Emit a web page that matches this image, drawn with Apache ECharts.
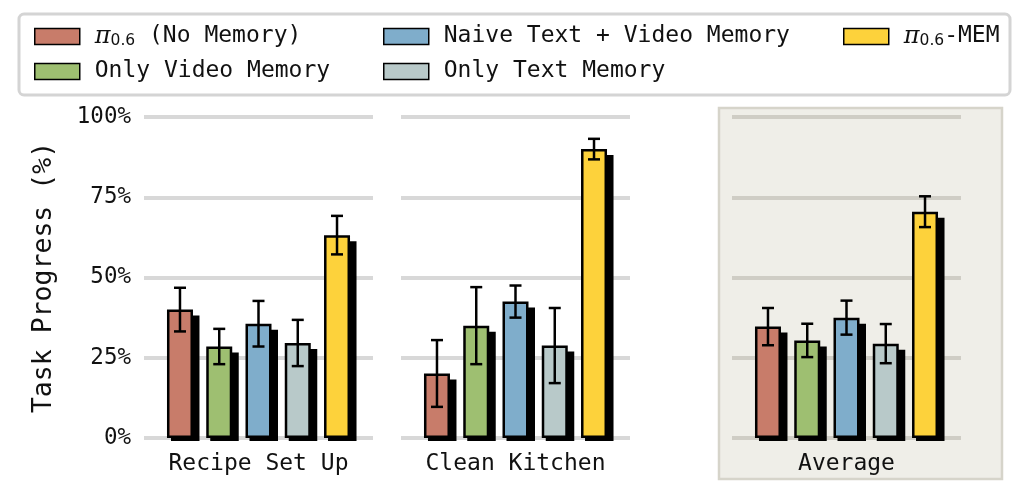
<!DOCTYPE html>
<html>
<head>
<meta charset="utf-8">
<script src="https://cdn.jsdelivr.net/npm/echarts@6/dist/echarts.min.js"></script>
<style>html,body{margin:0;padding:0;background:#fff}#c{width:1030px;height:489px}</style>
</head>
<body>
<div id="c"></div>
<script>
// ---- data ----
const panels = ['Recipe Set Up', 'Clean Kitchen', 'Average'];
const methods = ['π0.6 (No Memory)', 'Only Video Memory', 'Naive Text + Video Memory', 'Only Text Memory', 'π0.6-MEM'];
// values per method, one entry per panel
const noMemory   = [40.0, 20.1, 34.7];
const onlyVideo  = [28.5, 35.0, 30.4];
const naiveTV    = [35.6, 42.5, 37.5];
const onlyText   = [29.6, 28.8, 29.4];
const mem        = [63.2, 90.0, 70.5];
// error half-widths
const noMemoryErr  = [6.8, 10.4, 5.8];
const onlyVideoErr = [5.5, 12.0, 5.2];
const naiveTVErr   = [7.1, 5.0, 5.3];
const onlyTextErr  = [7.2, 11.7, 6.1];
const memErr       = [6.0, 3.2, 4.8];
const yTicks = [0, 25, 50, 75, 100];

const values = [noMemory, onlyVideo, naiveTV, onlyText, mem];
const errs = [noMemoryErr, onlyVideoErr, naiveTVErr, onlyTextErr, memErr];
const colors = ['#c87c6a', '#9ebf71', '#7fadcb', '#b8c9c9', '#fdd23b'];

const FONT = 'DejaVu Sans Mono';
const BAR_W = 26, BAR_GAP = 0.51;
const STEP = BAR_W * (1 + BAR_GAP);
const SH_X = 5, SH_Y = 3;

const gridLeft = [144, 401, 732];
const grids = gridLeft.map(l => ({left: l, width: 229, top: 117, height: 321}));

const xAxes = panels.map((p, i) => ({
  gridIndex: i, type: 'category', data: [p],
  axisLine: {show: false}, axisTick: {show: false},
  axisLabel: {fontFamily: FONT, fontSize: 23, color: '#111', margin: 15}
}));
const yAxes = panels.map((p, i) => ({
  gridIndex: i, type: 'value', min: yTicks[0], max: yTicks[yTicks.length - 1], interval: 25,
  axisLine: {show: false}, axisTick: {show: false},
  axisLabel: {show: i === 0, fontFamily: FONT, fontSize: 22.5, color: '#111', margin: 13, formatter: '{value}%'},
  splitLine: {lineStyle: {color: i === 2 ? '#cfcdc5' : '#d8d8d8', width: 4}},
  name: i === 0 ? 'Task Progress (%)' : '', nameLocation: 'middle', nameGap: 86, nameRotate: 90,
  nameTextStyle: {fontFamily: FONT, fontSize: 26.5, color: '#111'}
}));

const series = [];
panels.forEach((p, i) => {
  // drop shadows behind the bars
  series.push({
    type: 'custom', name: 'shadow' + i, xAxisIndex: i, yAxisIndex: i, z: 1, silent: true,
    data: methods.map((m, j) => [0, values[j][i], j]),
    renderItem: function (params, api) {
      const top = api.coord([0, api.value(1)]);
      const base = api.coord([0, 0]);
      const cx = top[0] + (api.value(2) - 2) * STEP;
      return {type: 'rect', shape: {x: cx - BAR_W / 2 - 1 + SH_X, y: top[1] + SH_Y + 3, width: BAR_W + 2.5, height: base[1] - top[1] - 3},
        style: {fill: '#000'}};
    }
  });
  methods.forEach((m, j) => {
    series.push({
      type: 'bar', name: m, xAxisIndex: i, yAxisIndex: i,
      data: [values[j][i]], barWidth: BAR_W, barGap: (BAR_GAP * 100) + '%',
      itemStyle: {color: colors[j], borderColor: '#000', borderWidth: 2.5},
      emphasis: {disabled: true}, z: 2
    });
  });
  series.push({
    type: 'custom', name: 'err' + i, xAxisIndex: i, yAxisIndex: i, z: 5,
    data: methods.map((m, j) => [0, values[j][i] - errs[j][i], values[j][i] + errs[j][i], j]),
    renderItem: function (params, api) {
      const lo = api.coord([0, api.value(1)]);
      const hi = api.coord([0, api.value(2)]);
      const x = lo[0] + (api.value(3) - 2) * STEP;
      const cap = 6;
      const st = {stroke: '#000', lineWidth: 2.5};
      return {type: 'group', children: [
        {type: 'line', shape: {x1: x, y1: lo[1], x2: x, y2: hi[1]}, style: st},
        {type: 'line', shape: {x1: x - cap, y1: lo[1], x2: x + cap, y2: lo[1]}, style: st},
        {type: 'line', shape: {x1: x - cap, y1: hi[1], x2: x + cap, y2: hi[1]}, style: st}
      ]};
    },
    silent: true
  });
});

const rich = {
  pi: {fontFamily: 'DejaVu Serif', fontStyle: 'italic', fontSize: 24, color: '#111', verticalAlign: 'middle'},
  sub: {fontFamily: 'DejaVu Sans', fontSize: 15.5, color: '#111', padding: [9, 0, 0, 0], verticalAlign: 'middle'},
  t: {fontFamily: FONT, fontSize: 23, color: '#111', verticalAlign: 'middle'}
};
function fmt(name) {
  if (name.indexOf('π0.6') === 0) {
    return '{pi|π}{sub|0.6}{t|' + name.slice(4) + '}';
  }
  return '{t|' + name + '}';
}
function legend(left, data) {
  return {
    left: left, top: 18.5, orient: 'vertical', itemGap: 9, itemWidth: 45, itemHeight: 16,
    icon: 'rect',
    data: data, formatter: fmt, selectedMode: false,
    itemStyle: {borderColor: '#000', borderWidth: 1.5},
    textStyle: {fontFamily: FONT, fontSize: 23, color: '#111', lineHeight: 26, padding: [0, 0, 0, 10], rich: rich}
  };
}

const chart = echarts.init(document.getElementById('c'), null, {renderer: 'canvas'});
chart.setOption({
  animation: false,
  backgroundColor: '#fff',
  graphic: [
    {type: 'rect', z: -10, shape: {x: 19, y: 14, width: 991, height: 81, r: 5},
      style: {fill: '#fff', stroke: '#d4d4d4', lineWidth: 3}},
    {type: 'rect', z: -10, shape: {x: 719, y: 108, width: 283, height: 371},
      style: {fill: '#efeee8', stroke: '#d6d4ca', lineWidth: 2.5}}
  ],
  legend: [
    legend(29, [methods[0], methods[1]]),
    legend(378, [methods[2], methods[3]]),
    legend(838, [methods[4]])
  ],
  grid: grids,
  xAxis: xAxes,
  yAxis: yAxes,
  series: series
});
</script>
</body>
</html>
